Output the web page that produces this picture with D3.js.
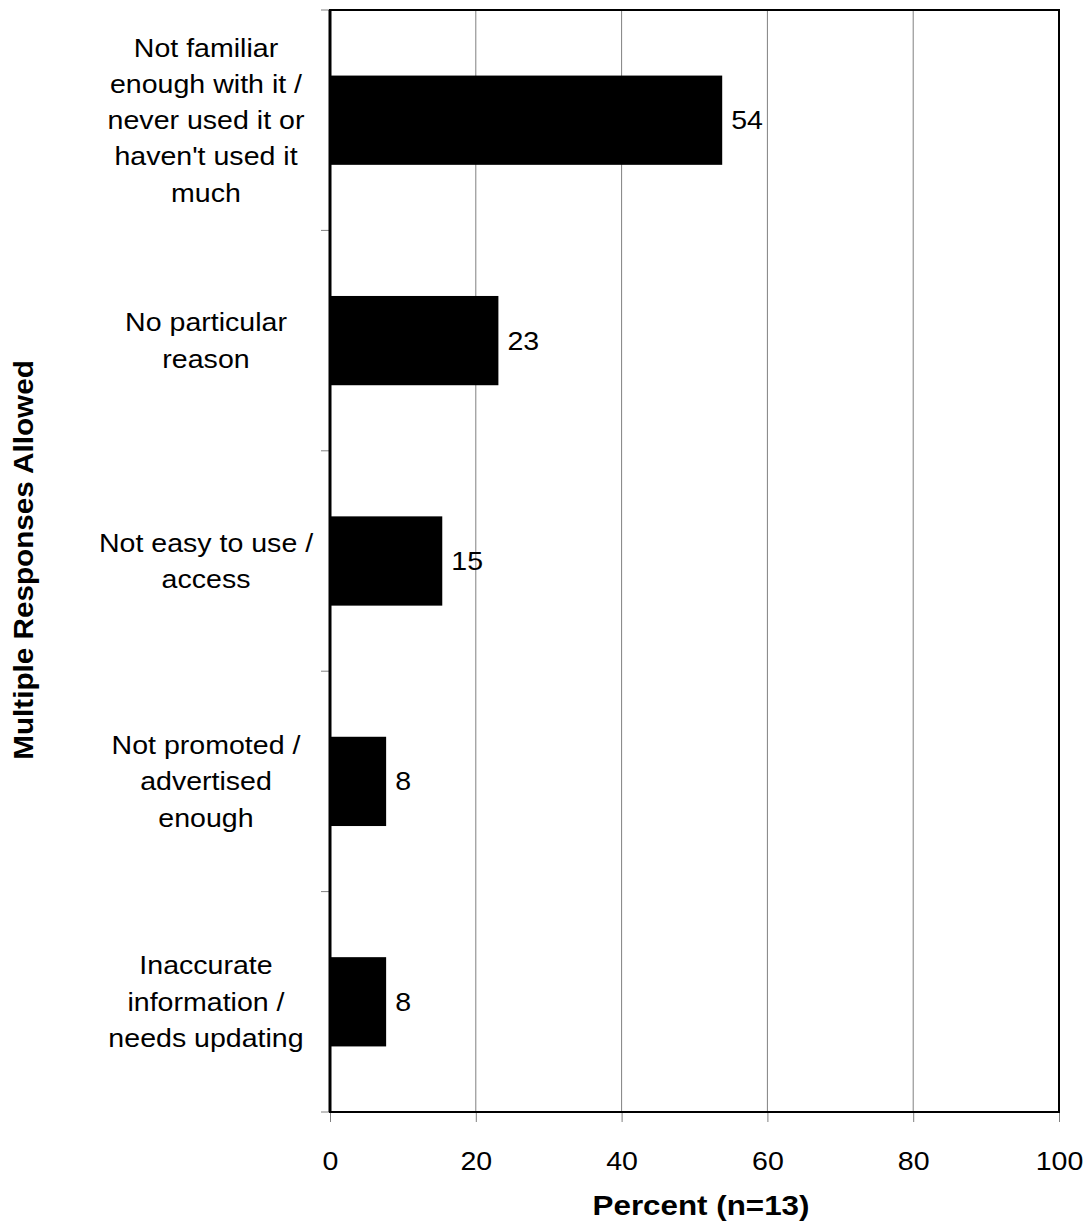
<!DOCTYPE html>
<html>
<head>
<meta charset="utf-8">
<script src="https://cdn.jsdelivr.net/npm/d3@7"></script>
<style>
  body { margin: 0; background: #fff; }
  text { font-family: "Liberation Sans", Arial, sans-serif; fill: #000; }
</style>
</head>
<body>
<div id="chart"></div>
<script>
// data
var categories = [
  ["Not familiar", "enough with it /", "never used it or", "haven't used it", "much"],
  ["No particular", "reason"],
  ["Not easy to use /", "access"],
  ["Not promoted /", "advertised", "enough"],
  ["Inaccurate", "information /", "needs updating"]
];
var values = [53.8, 23.1, 15.4, 7.7, 7.7];
var valueLabels = ["54", "23", "15", "8", "8"];
var xTicks = [0, 20, 40, 60, 80, 100];

var W = 1088, H = 1222;
var margin = {top: 10, right: 29, bottom: 110, left: 330};
var width = W - margin.left - margin.right,
    height = H - margin.top - margin.bottom;

// text in the original is a bit wider than Liberation Sans
var fs = 25.5, titleFs = 28, sx = 1.12;

var svg = d3.select("#chart").append("svg")
    .attr("width", W)
    .attr("height", H);

var g = svg.append("g")
    .attr("transform", "translate(" + margin.left + "," + margin.top + ")");

var x = d3.scaleLinear().domain([0, 100]).range([0, width]);
var y = d3.scaleBand()
    .domain(d3.range(categories.length))
    .range([0, height])
    .paddingInner(0.595)
    .paddingOuter(0.2975);

// gridlines
g.append("g").selectAll("line")
    .data(xTicks.slice(1, -1))
    .enter().append("line")
    .attr("x1", function(d) { return x(d); })
    .attr("x2", function(d) { return x(d); })
    .attr("y1", 0)
    .attr("y2", height)
    .style("stroke", "#808080")
    .style("stroke-width", 1);

// bars
g.append("g").selectAll("rect")
    .data(values)
    .enter().append("rect")
    .attr("x", x(0))
    .attr("y", function(d, i) { return y(i); })
    .attr("width", function(d) { return x(d) - x(0); })
    .attr("height", y.bandwidth())
    .style("fill", "#000");

// value labels
g.append("g").selectAll("text")
    .data(values)
    .enter().append("text")
    .attr("transform", function(d, i) {
      return "translate(" + (x(d) + 9) + "," + (y(i) + y.bandwidth() / 2) + ") scale(" + sx + ",1)";
    })
    .attr("dy", "0.35em")
    .style("font-size", fs + "px")
    .text(function(d, i) { return valueLabels[i]; });

// x axis
var xAxis = g.append("g")
    .attr("transform", "translate(0," + height + ")")
    .call(d3.axisBottom(x).tickValues(xTicks).tickSize(10).tickPadding(30));
xAxis.select(".domain").remove();
xAxis.selectAll(".tick line").style("stroke", "#808080");
xAxis.selectAll(".tick text")
    .attr("transform", "scale(" + sx + ",1)")
    .style("font-size", fs + "px")
    .style("font-family", "Liberation Sans, Arial, sans-serif")
    .style("fill", "#000");

// y ticks at band boundaries
var yBounds = d3.range(categories.length + 1).map(function(i) { return i * y.step(); });
g.append("g").selectAll("line")
    .data(yBounds)
    .enter().append("line")
    .attr("x1", -9)
    .attr("x2", 0)
    .attr("y1", function(d) { return d; })
    .attr("y2", function(d) { return d; })
    .style("stroke", "#808080")
    .style("stroke-width", 1);

// frame
g.append("rect")
    .attr("x", 0)
    .attr("y", 0)
    .attr("width", width)
    .attr("height", height)
    .style("fill", "none")
    .style("stroke", "#000")
    .style("stroke-width", 2);
g.append("line")
    .attr("x1", 0).attr("x2", 0)
    .attr("y1", 0).attr("y2", height)
    .style("stroke", "#000")
    .style("stroke-width", 3);

// category labels
var lineH = 36.3;
var catG = g.append("g").selectAll("text")
    .data(categories)
    .enter().append("text")
    .attr("text-anchor", "middle")
    .style("font-size", fs + "px")
    .attr("transform", function(d, i) {
      var cy = y(i) + y.bandwidth() / 2 - (d.length - 1) * lineH / 2;
      return "translate(-124," + cy + ") scale(" + sx + ",1)";
    });
catG.selectAll("tspan")
    .data(function(d) { return d; })
    .enter().append("tspan")
    .attr("x", 0)
    .attr("y", function(d, j) { return j * lineH; })
    .attr("dy", "0.35em")
    .text(function(d) { return d; });

// axis titles
svg.append("text")
    .attr("text-anchor", "middle")
    .attr("transform", "translate(701,1215) scale(" + sx + ",1)")
    .style("font-size", titleFs + "px")
    .style("font-weight", "bold")
    .text("Percent (n=13)");

svg.append("text")
    .attr("text-anchor", "middle")
    .attr("transform", "translate(33,560) rotate(-90) scale(1.06,1)")
    .style("font-size", titleFs + "px")
    .style("font-weight", "bold")
    .text("Multiple Responses Allowed");
</script>
</body>
</html>
